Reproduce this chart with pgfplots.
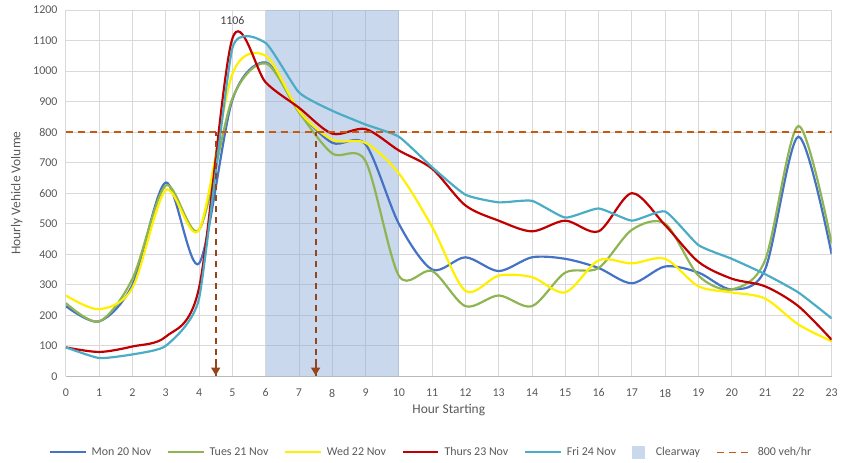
\documentclass[border=0pt]{standalone}
\usepackage{fontspec}
\setmainfont{Carlito}
\usepackage{pgfplots}
\usepackage{pgfplotstable}
\pgfplotsset{compat=1.18}
\usetikzlibrary{arrows.meta}
\definecolor{cMon}{HTML}{4472C4}
\definecolor{cTue}{HTML}{8FB552}
\definecolor{cWed}{HTML}{FFF000}
\definecolor{cThu}{HTML}{C00000}
\definecolor{cFri}{HTML}{4BACC6}
\definecolor{cClear}{RGB}{135,168,213}
\definecolor{cClearL}{RGB}{201,216,236}
\definecolor{cLim}{HTML}{C55A11}
\definecolor{cArr}{HTML}{94461A}
\definecolor{cText}{HTML}{595959}
\definecolor{cGrid}{HTML}{D9D9D9}
\pgfplotstableread{
h mon tue wed thu fri
0 230 240 265 95 95
1 180 180 220 80 60
2 300 320 290 98 72
3 635 625 610 130 100
4 370 480 480 290 255
5 905 910 990 1106 1075
6 1028 1025 1050 963 1092
7 870 865 870 880 930
8 765 730 775 795 870
9 760 705 765 810 825
10 500 330 665 740 785
11 350 345 490 680 685
12 390 230 280 560 595
13 345 265 330 510 570
14 390 230 325 475 575
15 385 340 275 510 520
16 355 355 380 475 550
17 305 480 370 600 510
18 360 500 385 495 540
19 340 330 295 375 430
20 285 285 275 320 385
21 350 380 255 295 335
22 785 820 170 230 275
23 400 435 115 120 190
}\data
\begin{document}
\begin{tikzpicture}[font=\fontsize{12}{14}\selectfont]
\begin{axis}[
  name=ax,
  scale only axis,
  width=767bp, height=367bp,
  xmin=0, xmax=23, ymin=0, ymax=1200,
  xtick={0,1,...,23}, ytick={0,100,...,1200},
  grid=major,
  grid style={cGrid, line width=0.8pt},
  axis x line=bottom, axis y line=left,
  x axis line style={-, draw=gray!55, line width=0.9pt},
  y axis line style={draw=none},
  major tick length=0pt,
  /pgf/number format/assume math mode=true,
  /pgf/number format/set thousands separator={},
  tick label style={text=cText},
  xticklabel style={yshift=-9pt},
  yticklabel style={xshift=-5pt},
  xlabel={Hour Starting},
  ylabel={Hourly Vehicle Volume},
  label style={text=cText, font=\fontsize{13.5}{15}\selectfont},
  xlabel style={at={(axis description cs:0.5,-0.0927)}, anchor=center},
  ylabel style={at={(axis description cs:-0.064,0.5)}, anchor=center},
  legend columns=7,
  legend style={at={(0.477,-0.2071)}, anchor=center, draw=none, fill=none,
    text=cText, inner sep=0pt,
    /tikz/every odd column/.append style={column sep=3pt},
    /tikz/every even column/.append style={column sep=14pt}},
  legend image code/.code={\draw[#1] (0cm,0cm) -- (1.25cm,0cm);},
  every axis plot/.append style={line width=2.2pt, smooth},
]
\addplot[forget plot, draw=none, fill=cClear, fill opacity=0.45, sharp plot] coordinates {(6,0) (6,1200) (10,1200) (10,0)} -- cycle;
\addplot[cMon] table[x=h, y=mon] {\data};
\addlegendentry{Mon 20 Nov}
\addplot[cTue] table[x=h, y=tue] {\data};
\addlegendentry{Tues 21 Nov}
\addplot[cWed] table[x=h, y=wed] {\data};
\addlegendentry{Wed 22 Nov}
\addplot[cThu] table[x=h, y=thu] {\data};
\addlegendentry{Thurs 23 Nov}
\addplot[cFri, tension=0.3] table[x=h, y=fri] {\data};
\addlegendentry{Fri 24 Nov}
\addlegendimage{legend image code/.code={\fill[cClearL] (0.62cm,-0.19cm) rectangle (1.0cm,0.19cm);}}
\addlegendentry{\hspace{6pt}Clearway}
\addplot[sharp plot, cLim, line width=1.5pt, dash pattern=on 7pt off 5pt] coordinates {(0,800) (23,800)};
\addlegendentry{800 veh/hr}
\addplot[forget plot, sharp plot, draw=cArr, line width=2pt, dash pattern=on 6pt off 5pt] coordinates {(4.5,0) (4.5,800)};
\addplot[forget plot, sharp plot, draw=cArr, line width=2pt, dash pattern=on 6pt off 5pt] coordinates {(7.5,0) (7.5,800)};
\addplot[forget plot, sharp plot, cArr, line width=2pt, solid, -{Triangle[width=9pt,length=8pt]}] coordinates {(4.5,36) (4.5,3)};
\addplot[forget plot, sharp plot, cArr, line width=2pt, solid, -{Triangle[width=9pt,length=8pt]}] coordinates {(7.5,36) (7.5,3)};
\node[text=black!75] at (axis cs:5,1164) {1106};
\end{axis}
\path ([shift={(-66bp,-86bp)}]ax.south west) rectangle ([shift={(8bp,10bp)}]ax.north east);
\end{tikzpicture}
\end{document}
